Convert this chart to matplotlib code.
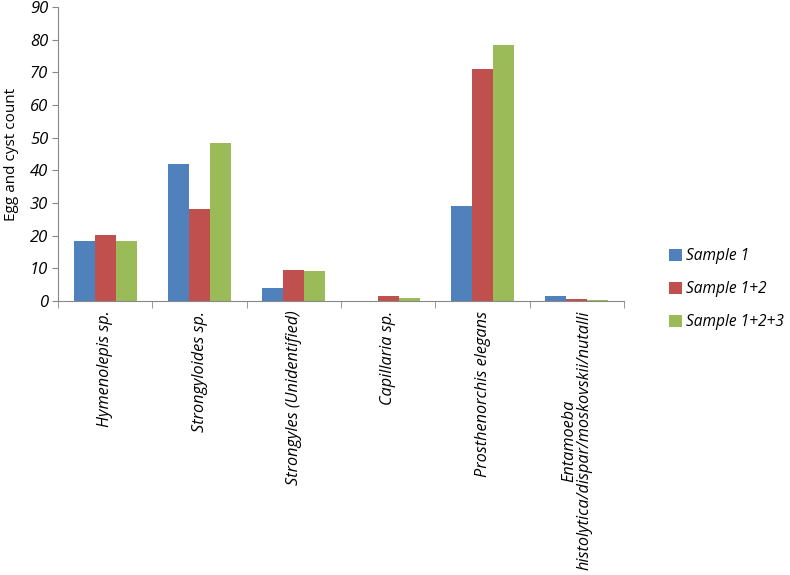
import matplotlib.pyplot as plt
import numpy as np

plt.rcParams['font.family'] = ['Open Sans', 'DejaVu Sans']

categories = ['Hymenolepis sp.', 'Strongyloides sp.', 'Strongyles (Unidentified)',
              'Capillaria sp.', 'Prosthenorchis elegans',
              'Entamoeba\nhistolytica/dispar/moskovskii/nutalli']
sample_1 = [18.3, 41.9, 4.0, 0.0, 29.0, 1.5]
sample_12 = [20.2, 28.2, 9.5, 1.5, 71.1, 0.7]
sample_123 = [18.4, 48.3, 9.3, 1.0, 78.3, 0.4]
series_names = ['Sample 1', 'Sample 1+2', 'Sample 1+2+3']
colors = ['#4F81BD', '#C0504D', '#9BBB59']

fig = plt.figure(figsize=(7.9, 5.75), dpi=100)
ax = fig.add_axes([0.0734, 0.4765, 0.7166, 0.5115])

x = np.arange(len(categories))
w = 0.223
for i, (vals, name, c) in enumerate(zip([sample_1, sample_12, sample_123], series_names, colors)):
    ax.bar(x + (i - 1) * w, vals, w, color=c, label=name)

ax.set_xlim(-0.5, len(categories) - 0.5)
ax.set_ylim(0, 90)
ax.set_yticks(range(0, 91, 10))
ax.set_yticklabels([str(v) for v in range(0, 91, 10)], fontsize=12, style='italic')
ax.set_ylabel('Egg and cyst count', fontsize=11, labelpad=8)

ax.set_xticks(x)
ax.set_xticklabels(categories, rotation=90, style='italic', fontsize=11.7, va='top', ha='center',
                   multialignment='center', linespacing=1.0)
ax.tick_params(axis='x', length=0, pad=7)
ax.set_xticks(np.arange(-0.5, len(categories)), minor=True)
ax.tick_params(axis='x', which='minor', length=5, color='#888888', direction='out')
ax.tick_params(axis='y', length=4, color='#888888', direction='out', pad=3)

for s in ['top', 'right']:
    ax.spines[s].set_visible(False)
for s in ['left', 'bottom']:
    ax.spines[s].set_color('#888888')

leg = ax.legend(loc='center left', bbox_to_anchor=(1.055, 0.04), frameon=False,
                handlelength=0.8, handleheight=0.8, labelspacing=1.1, handletextpad=0.3,
                prop={'style': 'italic', 'size': 11.2})

fig.savefig('out.png', dpi=100)
